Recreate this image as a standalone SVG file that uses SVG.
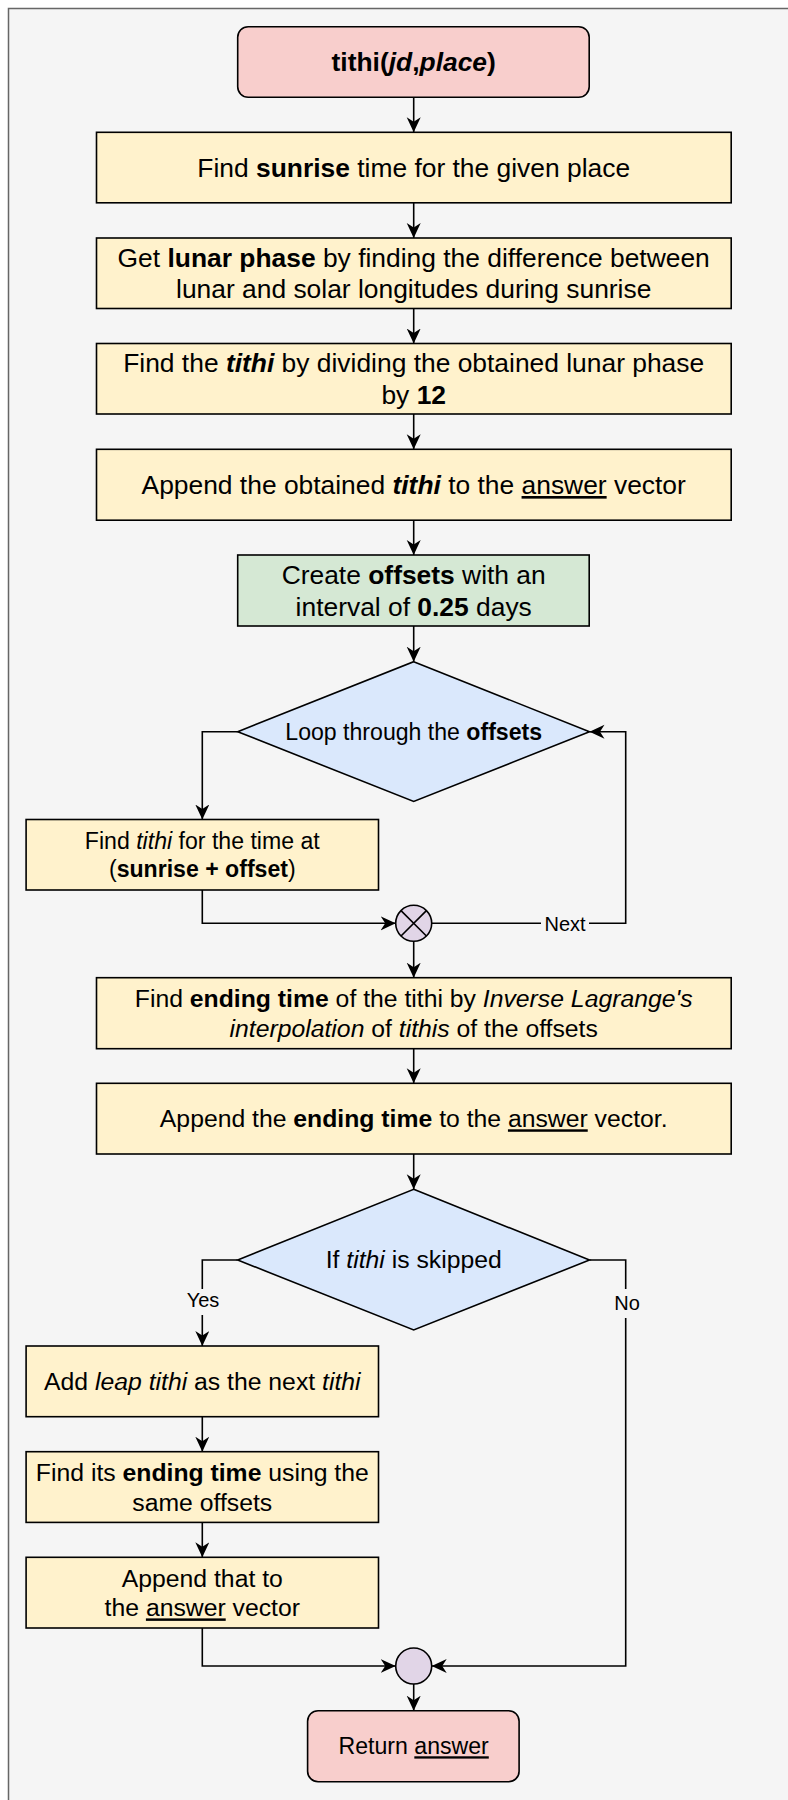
<svg xmlns="http://www.w3.org/2000/svg" width="788" height="1800" viewBox="0 0 788 1800">
<style>
text{font-family:"Liberation Sans",Arial,sans-serif;fill:#000;text-anchor:middle}
.f26{font-size:26.4px}.f25{font-size:24.75px}.f23{font-size:23.1px}.f20{font-size:20px}
.b{font-weight:bold}.i{font-style:italic}.u{text-decoration:underline}
.node{stroke:#000;stroke-width:1.6}
.pink{fill:#f8cecc}.yel{fill:#fff2cc}.grn{fill:#d5e8d4}.blue{fill:#dae8fc}.purp{fill:#e1d5e7}
.edge{fill:none;stroke:#000;stroke-width:1.6;marker-end:url(#arr)}
</style>
<defs>
<marker id="arr" markerUnits="userSpaceOnUse" markerWidth="16" markerHeight="15" refX="15" refY="7" orient="auto">
<path d="M0,0 L15,7 L0,14 L4.5,7 Z" fill="#000"/>
</marker>
</defs>
<rect x="8.5" y="8.5" width="800" height="1800" fill="#f5f5f5" stroke="#666" stroke-width="1.5"/>

<g id="connectors">
<path class="edge" d="M413.7 97.3 V132.3"/>
<path class="edge" d="M413.7 202.8 V238"/>
<path class="edge" d="M413.7 308.5 V343.5"/>
<path class="edge" d="M413.7 414 V449.3"/>
<path class="edge" d="M413.7 520.2 V555"/>
<path class="edge" d="M413.7 626 V661.7"/>
<path class="edge" d="M237.7 731.7 H202.3 V819.5"/>
<path class="edge" d="M202.3 890 V923.3 H395.7"/>
<path class="edge" d="M431.7 923.3 H541 M589 923.3 H625.7 V731.7 H589.5"/>
<path class="edge" d="M413.7 941.3 V977.7"/>
<path class="edge" d="M413.7 1048.7 V1083.3"/>
<path class="edge" d="M413.7 1154 V1189.3"/>
<path class="edge" d="M237.7 1260 H202.3 V1289 M202.3 1315 V1346"/>
<path class="edge" d="M589.5 1260 H625.7 V1289 M625.7 1318 V1666 H431.7"/>
<path class="edge" d="M202.3 1416.7 V1451.7"/>
<path class="edge" d="M202.3 1522.4 V1557.3"/>
<path class="edge" d="M202.3 1628 V1666 H395.7"/>
<path class="edge" d="M413.7 1684 V1710.7"/>
<text class="f20" x="565" y="930.5">Next</text>
<text class="f20" x="203" y="1307">Yes</text>
<text class="f20" x="627" y="1310">No</text>
</g>

<g id="start">
<rect class="node pink" x="237.7" y="26.7" width="351.5" height="70.6" rx="10.5"/>
<text class="f26 b" x="413.7" y="71.3">tithi(<tspan class="i">jd</tspan>,<tspan class="i">place</tspan>)</text>
</g>

<g id="sunrise">
<rect class="node yel" x="96.5" y="132.3" width="634.7" height="70.5"/>
<text class="f26" x="413.7" y="176.8">Find <tspan class="b">sunrise</tspan> time for the given place</text>
</g>

<g id="lunarphase">
<rect class="node yel" x="96.5" y="238" width="634.7" height="70.5"/>
<text class="f26" x="413.7" y="266.6">Get <tspan class="b">lunar phase</tspan> by finding the difference between</text>
<text class="f26" x="413.7" y="298.2">lunar and solar longitudes during sunrise</text>
</g>

<g id="findtithi">
<rect class="node yel" x="96.5" y="343.5" width="634.7" height="70.5"/>
<text class="f26" x="413.7" y="372.1">Find the <tspan class="b i">tithi</tspan> by dividing the obtained lunar phase</text>
<text class="f26" x="413.7" y="403.7">by <tspan class="b">12</tspan></text>
</g>

<g id="appendtithi">
<rect class="node yel" x="96.5" y="449.3" width="634.7" height="70.9"/>
<text class="f26" x="413.7" y="494">Append the obtained <tspan class="b i">tithi</tspan> to the <tspan class="u">answer</tspan> vector</text>
</g>

<g id="offsets">
<rect class="node grn" x="237.7" y="555" width="351.5" height="71"/>
<text class="f26" x="413.7" y="584.2">Create <tspan class="b">offsets</tspan> with an</text>
<text class="f26" x="413.7" y="615.8">interval of <tspan class="b">0.25</tspan> days</text>
</g>

<g id="loop">
<polygon class="node blue" points="413.7,661.7 589.5,731.7 413.7,801.5 237.7,731.7"/>
<text class="f23" x="413.7" y="739.6">Loop through the <tspan class="b">offsets</tspan></text>
</g>

<g id="tithioffset">
<rect class="node yel" x="26.1" y="819.5" width="352.4" height="70.5"/>
<text class="f23" x="202.3" y="848.8">Find <tspan class="i">tithi</tspan> for the time at</text>
<text class="f23" x="202.3" y="876.5">(<tspan class="b">sunrise + offset</tspan>)</text>
</g>

<g id="loopend">
<circle class="node purp" cx="413.7" cy="923.3" r="18"/>
<path d="M401 910.6 L426.4 936 M426.4 910.6 L401 936" stroke="#000" stroke-width="1.6" fill="none"/>
</g>

<g id="endingtime">
<rect class="node yel" x="96.5" y="977.7" width="634.7" height="71"/>
<text class="f25" x="413.7" y="1007">Find <tspan class="b">ending time</tspan> of the tithi by <tspan class="i">Inverse Lagrange's</tspan></text>
<text class="f25" x="413.7" y="1036.8"><tspan class="i">interpolation</tspan> of <tspan class="i">tithis</tspan> of the offsets</text>
</g>

<g id="appendending">
<rect class="node yel" x="96.5" y="1083.3" width="634.7" height="70.7"/>
<text class="f25" x="413.7" y="1127.3">Append the <tspan class="b">ending time</tspan> to the <tspan class="u">answer</tspan> vector.</text>
</g>

<g id="skipped">
<polygon class="node blue" points="413.7,1189.3 589.5,1260 413.7,1330 237.7,1260"/>
<text class="f25" x="413.7" y="1268.2">If <tspan class="i">tithi</tspan> is skipped</text>
</g>

<g id="leap">
<rect class="node yel" x="26.1" y="1346" width="352.4" height="70.7"/>
<text class="f25" x="202.3" y="1389.8">Add <tspan class="i">leap tithi</tspan> as the next <tspan class="i">tithi</tspan></text>
</g>

<g id="leapending">
<rect class="node yel" x="26.1" y="1451.7" width="352.4" height="70.7"/>
<text class="f25" x="202.3" y="1481">Find its <tspan class="b">ending time</tspan> using the</text>
<text class="f25" x="202.3" y="1510.7">same offsets</text>
</g>

<g id="appendleap">
<rect class="node yel" x="26.1" y="1557.3" width="352.4" height="70.7"/>
<text class="f25" x="202.3" y="1586.7">Append that to</text>
<text class="f25" x="202.3" y="1616.4">the <tspan class="u">answer</tspan> vector</text>
</g>

<g id="merge">
<circle class="node purp" cx="413.7" cy="1666" r="18"/>
</g>

<g id="return">
<rect class="node pink" x="307.6" y="1710.7" width="211.5" height="71" rx="10.5"/>
<text class="f23" x="413.7" y="1754.3">Return <tspan class="u">answer</tspan></text>
</g>
</svg>
